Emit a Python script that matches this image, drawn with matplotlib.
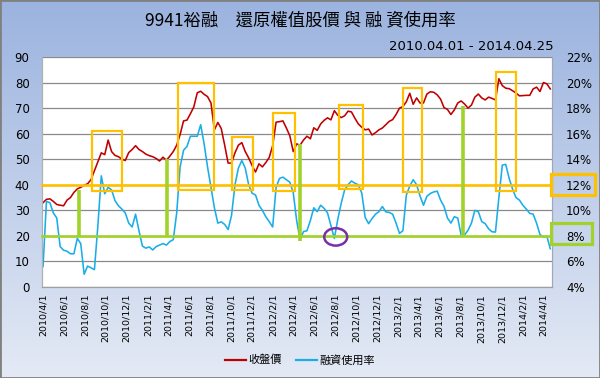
import matplotlib
matplotlib.use('Agg')
import matplotlib.pyplot as plt
import matplotlib.dates as mdates
import matplotlib.transforms as mtransforms
from matplotlib.patches import Rectangle, Ellipse
from matplotlib.font_manager import FontProperties
from matplotlib.lines import Line2D
import numpy as np
import pandas as pd

CJK = ['Noto Sans CJK TC', 'DejaVu Sans']

# ---------------- data ----------------
price = [33, 34.3, 34.5, 33.5, 32.3, 32, 31.8, 34, 35, 37,
         38.4, 39, 39.8, 40.4, 42, 45.5, 49, 52.5, 51.8, 57.5,
         53, 51.5, 51, 50, 49.5, 52.6, 53.8, 55.3, 53.8, 53,
         52, 51.4, 51, 50.3, 49.3, 50.8, 49.6, 51.2, 53, 55.5,
         59.7, 65, 65.3, 67.8, 70.5, 76, 76.6, 75.4, 74.5, 72,
         61.5, 64.4, 62, 55.5, 48.5, 48.5, 52.5, 55.5, 56.5, 53,
         50.5, 47.5, 45, 48.2, 47, 48.7, 50.7, 55.3, 64.5, 64.7,
         65, 62.2, 59.2, 53, 56, 55.5, 57.5, 59, 58, 62.3,
         61.3, 63.8, 65.2, 66.2, 65.4, 69, 67.2, 66.3, 67, 68.8,
         68.5, 66, 63.8, 62.5, 61.5, 61.8, 59.5, 60.4, 61.5, 62.2,
         63.5, 64.8, 65.5, 67.5, 70, 70.6, 72.5, 75.8, 71.5, 74,
         72, 72, 75.5, 76.4, 76.2, 75.2, 73.5, 70.2, 69.5, 67.5,
         69.3, 72, 72.8, 71.6, 70, 71.2, 74.3, 75.5, 74, 73.2,
         74.3, 73.8, 73.2, 81.5, 78.8, 77.8, 77.6, 76.8, 75.9, 74.8,
         74.9, 75, 75, 77.5, 78.2, 76.5, 80, 79.5, 77.5]

margin_pct = [5.6, 10.7, 10.6, 9.8, 9.4, 7.16, 6.88, 6.8, 6.6, 6.6,
              7.8, 7.4, 5.0, 5.64, 5.5, 5.36, 8.8, 12.7, 11.3, 11.8,
              11.6, 10.76, 10.36, 10.1, 9.8, 9.0, 8.7, 9.7, 8.4, 7.2,
              7.04, 7.14, 6.9, 7.16, 7.28, 7.4, 7.28, 7.56, 7.7, 9.8,
              13.4, 14.7, 15.0, 15.8, 15.8, 15.8, 16.7, 15.2, 13.4, 11.8,
              10.2, 9.0, 9.1, 8.9, 8.5, 9.6, 12.0, 13.3, 13.9, 13.3,
              12.0, 11.34, 11.2, 10.4, 10.0, 9.5, 9.12, 8.7, 11.8, 12.5,
              12.6, 12.4, 12.2, 11.4, 9.2, 7.7, 8.34, 8.4, 9.2, 10.2,
              9.9, 10.4, 10.16, 9.8, 8.8, 7.8, 9.3, 10.56, 11.6, 12.0,
              12.3, 12.12, 12.0, 11.34, 9.44, 8.96, 9.36, 9.7, 9.9, 10.3,
              9.88, 9.84, 9.7, 9.0, 8.2, 8.4, 11.2, 11.9, 12.4, 12.0,
              11.12, 10.4, 11.1, 11.32, 11.44, 11.5, 10.8, 10.3, 9.4, 9.0,
              9.5, 9.4, 8.04, 8.08, 8.44, 9.0, 10.0, 9.9, 9.12, 8.96,
              8.56, 8.32, 8.3, 11.0, 13.54, 13.6, 12.5, 11.66, 11.0, 10.8,
              10.4, 10.1, 9.76, 9.7, 9.0, 8.1, 7.92, 7.96, 7.0]

dates = pd.date_range('2010-04-01', periods=len(price), freq='10D')

tick_dates = pd.date_range('2010-04-01', '2014-04-01', freq='2MS')
tick_labels = [f"{d.year}/{d.month}/{d.day}" for d in tick_dates]

# annotation shapes (hand-drawn highlights)
box_start = ['2010-08-21', '2011-04-29', '2011-10-04', '2012-01-31', '2012-08-12', '2013-02-15', '2013-11-14']
box_end = ['2010-11-16', '2011-08-14', '2011-12-04', '2012-04-05', '2012-10-21', '2013-04-12', '2014-01-11']
box_top = [61, 80, 58.8, 68.2, 71.2, 78, 84]
box_bottom = [37.7, 37.9, 37.9, 37.7, 38.4, 37.3, 37.7]

bar_dates = ['2010-07-14', '2011-03-29', '2012-04-19', '2013-08-08']
bar_low = [20, 20, 18, 19.5]
bar_high = [38, 50, 56, 71]

circle_date = '2012-08-02'
circle_value = 19.6

ORANGE = '#FFC000'
GREEN = '#A0D22A'
RED = '#C00000'
BLUE = '#1AADE8'

# ---------------- figure ----------------
fig = plt.figure(figsize=(6, 3.78), dpi=100)

# gradient background
bg = fig.add_axes([0, 0, 1, 1], zorder=-10)
top = np.array([155, 179, 223]) / 255
bot = np.array([228, 234, 245]) / 255
t = np.linspace(0, 1, 256)[:, None]
grad = (top[None, :] * (1 - t) + bot[None, :] * t)[:, None, :]
bg.imshow(grad, aspect='auto', extent=[0, 1, 0, 1])
bg.set_xlim(0, 1); bg.set_ylim(0, 1)
bg.axis('off')
bg.add_patch(Rectangle((0, 0), 1, 1, transform=bg.transAxes, fill=False,
                       edgecolor='#808080', lw=2))

ax = fig.add_axes([0.07, 0.2407, 0.85, 0.6085])
ax.set_facecolor('white')
ax2 = ax.twinx()

ax.plot(dates, price, color=RED, lw=1.15, zorder=3)
ax2.plot(dates, margin_pct, color=BLUE, lw=1.15, zorder=2)

ax.set_ylim(0, 90)
ax.set_yticks(range(0, 91, 10))
ax2.set_ylim(4, 22)
ax2.set_yticks(range(4, 23, 2))
ax2.set_yticklabels([f"{v}%" for v in range(4, 23, 2)])

xmin = pd.Timestamp('2010-03-29')
xmax = pd.Timestamp('2014-04-25')
ax.set_xlim(xmin, xmax)
ax.set_xticks(tick_dates)
ax.set_xticklabels(tick_labels, rotation=90, fontsize=6.8)

ax.grid(axis='y', color='#8a8a8a', lw=0.9)
ax.set_axisbelow(True)
ax.tick_params(axis='x', length=0, pad=5, colors='black')
ax.tick_params(axis='y', length=0, pad=9, labelsize=8.5)
ax2.tick_params(axis='y', length=0, pad=10, labelsize=8.5)

for a in (ax, ax2):
    a.spines['top'].set_visible(False)
    a.spines['left'].set_color('#b0b0b0')
    a.spines['right'].set_color('#a0a8b8')
    a.spines['bottom'].set_color('#a0a0a0')

# annotations drawn on top (left-axis data units)
tr = ax.transData
blend = mtransforms.blended_transform_factory(ax2.transAxes, ax.transData)

ax2.plot([0, 0.998], [40, 40], transform=blend, color=ORANGE, lw=1.9, zorder=5, clip_on=False)
ax2.plot([0, 0.998], [20, 20], transform=blend, color=GREEN, lw=1.9, zorder=5, clip_on=False)

ax2.add_patch(Rectangle((0.998, 35.9), 0.086, 8.5, transform=blend, fill=False,
                        edgecolor=ORANGE, lw=2.3, clip_on=False, zorder=6))
ax2.add_patch(Rectangle((0.998, 16.9), 0.080, 8.0, transform=blend, fill=False,
                        edgecolor=GREEN, lw=2.3, clip_on=False, zorder=6))

for s, e, lo, hi in zip(box_start, box_end, box_bottom, box_top):
    x0 = mdates.date2num(pd.Timestamp(s))
    x1 = mdates.date2num(pd.Timestamp(e))
    ax2.add_patch(Rectangle((x0, lo), x1 - x0, hi - lo, transform=tr, fill=False,
                            edgecolor=ORANGE, lw=1.6, zorder=6))

for d, lo, hi in zip(bar_dates, bar_low, bar_high):
    xd = mdates.date2num(pd.Timestamp(d))
    ax2.plot([xd, xd], [lo, hi], transform=tr, color=GREEN, lw=2.6,
             solid_capstyle='butt', zorder=6)

ax2.add_patch(Ellipse((mdates.date2num(pd.Timestamp(circle_date)), circle_value), 67, 6.8,
                      transform=tr, fill=False, edgecolor='#7A2FA8', lw=1.8, zorder=7))

# titles
fig.text(0.5, 1 - 20.5 / 378, '9941裕融\u3000還原權值股價 與 融 資使用率',
         ha='center', va='center', fontsize=12.5, family=CJK, color='black')
fig.text(554 / 600, 1 - 47 / 378, '2010.04.01 - 2014.04.25',
         ha='right', va='center', fontsize=9.5, color='black')

# legend
handles = [Line2D([], [], color=RED, lw=1.6), Line2D([], [], color=BLUE, lw=1.6)]
fig.legend(handles, ['收盤價', '融資使用率'], loc='center', bbox_to_anchor=(0.5, 1 - 360 / 378),
           ncol=2, frameon=False, prop=FontProperties(family=CJK, size=8),
           handlelength=1.9, handletextpad=0.2, columnspacing=1.3)

fig.savefig('out.png', dpi=100)
